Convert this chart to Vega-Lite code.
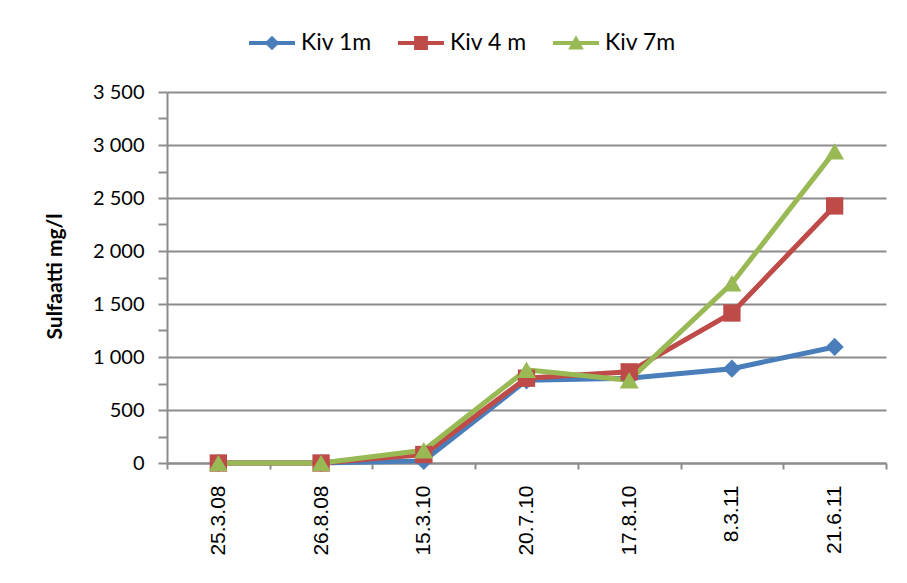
{
  "$schema": "https://vega.github.io/schema/vega-lite/v6.json",
  "width": 719,
  "height": 371,
  "autosize": "none",
  "padding": {"left": 167, "top": 92, "right": 21, "bottom": 120},
  "background": "white",
  "config": {"view": {"stroke": null}},
  "data": {"values": [
    {"date": "25.3.08", "series": "Kiv 1m", "value": 0},
    {"date": "26.8.08", "series": "Kiv 1m", "value": 0},
    {"date": "15.3.10", "series": "Kiv 1m", "value": 20},
    {"date": "20.7.10", "series": "Kiv 1m", "value": 780},
    {"date": "17.8.10", "series": "Kiv 1m", "value": 800},
    {"date": "8.3.11", "series": "Kiv 1m", "value": 890},
    {"date": "21.6.11", "series": "Kiv 1m", "value": 1095},
    {"date": "25.3.08", "series": "Kiv 4 m", "value": 0},
    {"date": "26.8.08", "series": "Kiv 4 m", "value": 0},
    {"date": "15.3.10", "series": "Kiv 4 m", "value": 80},
    {"date": "20.7.10", "series": "Kiv 4 m", "value": 800},
    {"date": "17.8.10", "series": "Kiv 4 m", "value": 860},
    {"date": "8.3.11", "series": "Kiv 4 m", "value": 1415},
    {"date": "21.6.11", "series": "Kiv 4 m", "value": 2425},
    {"date": "25.3.08", "series": "Kiv 7m", "value": 0},
    {"date": "26.8.08", "series": "Kiv 7m", "value": 0},
    {"date": "15.3.10", "series": "Kiv 7m", "value": 120},
    {"date": "20.7.10", "series": "Kiv 7m", "value": 880},
    {"date": "17.8.10", "series": "Kiv 7m", "value": 780},
    {"date": "8.3.11", "series": "Kiv 7m", "value": 1695},
    {"date": "21.6.11", "series": "Kiv 7m", "value": 2940}
  ]},
  "encoding": {
    "x": {
      "field": "date", "type": "ordinal", "sort": null,
      "scale": {"paddingInner": 0, "paddingOuter": 0},
      "axis": {
        "title": null, "labelAngle": -90, "labelAlign": "right", "labelBaseline": "middle",
        "labelFont": "Liberation Sans", "labelFontSize": 21, "labelColor": "black",
        "labelPadding": 16, "tickBand": "extent", "tickSize": 6,
        "domainColor": "#8c8c8c", "domainWidth": 2, "tickColor": "#8c8c8c", "tickWidth": 2
      }
    },
    "y": {
      "field": "value", "type": "quantitative",
      "scale": {"domain": [0, 3500], "nice": false},
      "axis": {
        "title": "Sulfaatti mg/l", "titleFont": "Lato", "titleFontSize": 21, "titleFontWeight": "bold",
        "titleColor": "black", "titleX": -112, "titleY": 184, "titleAngle": -90,
        "titleAlign": "center", "titleBaseline": "middle",
        "values": [0, 250, 500, 750, 1000, 1250, 1500, 1750, 2000, 2250, 2500, 2750, 3000, 3250, 3500],
        "labelExpr": "datum.value % 500 === 0 ? replace(format(datum.value, ','), ',', ' ') : ''",
        "labelFont": "Lato", "labelFontSize": 20, "labelColor": "black", "labelPadding": 14,
        "tickSize": 9, "tickColor": "#8c8c8c", "tickWidth": 2,
        "domainColor": "#8c8c8c", "domainWidth": 2,
        "grid": true, "gridColor": "#8c8c8c", "gridWidth": 2,
        "gridOpacity": {"condition": {"test": "datum.value % 500 === 0", "value": 1}, "value": 0}
      }
    },
    "color": {
      "field": "series", "type": "nominal", "sort": null,
      "scale": {"domain": ["Kiv 1m", "Kiv 4 m", "Kiv 7m"], "range": ["#4a7ebb", "#be4b48", "#98b954"]},
      "legend": {
        "title": null, "orient": "none", "direction": "horizontal", "legendX": 82, "legendY": -72,
        "labelFont": "Lato", "labelFontSize": 23, "labelColor": "black", "labelOffset": 6,
        "columnPadding": 26, "symbolSize": 2116, "symbolStrokeWidth": 0,
        "encode": {
          "symbols": {
            "update": {
              "shape": {"signal": "datum.value === 'Kiv 1m' ? 'M-1,-0.09H1V0.09H-1Z M0,-0.32L0.32,0L0,0.32L-0.32,0Z' : datum.value === 'Kiv 4 m' ? 'M-1,-0.09H1V0.09H-1Z M-0.3,-0.3H0.3V0.3H-0.3Z' : 'M-1,-0.09H1V0.09H-1Z M0,-0.34L0.34,0.28H-0.34Z'"},
              "fill": {"signal": "scale('color', datum.value)"},
              "strokeWidth": {"value": 0},
              "opacity": {"value": 1}
            }
          }
        }
      }
    }
  },
  "layer": [
    {"mark": {"type": "line", "strokeWidth": 5}},
    {
      "transform": [{"filter": "datum.series === 'Kiv 1m'"}],
      "mark": {"type": "point", "filled": true, "opacity": 1, "size": 330, "shape": "diamond"}
    },
    {
      "transform": [{"filter": "datum.series === 'Kiv 4 m'"}],
      "mark": {"type": "point", "filled": true, "opacity": 1, "size": 300, "shape": "square"}
    },
    {
      "transform": [{"filter": "datum.series === 'Kiv 7m'"}],
      "mark": {"type": "point", "filled": true, "opacity": 1, "size": 360, "shape": "triangle-up"}
    }
  ]
}
